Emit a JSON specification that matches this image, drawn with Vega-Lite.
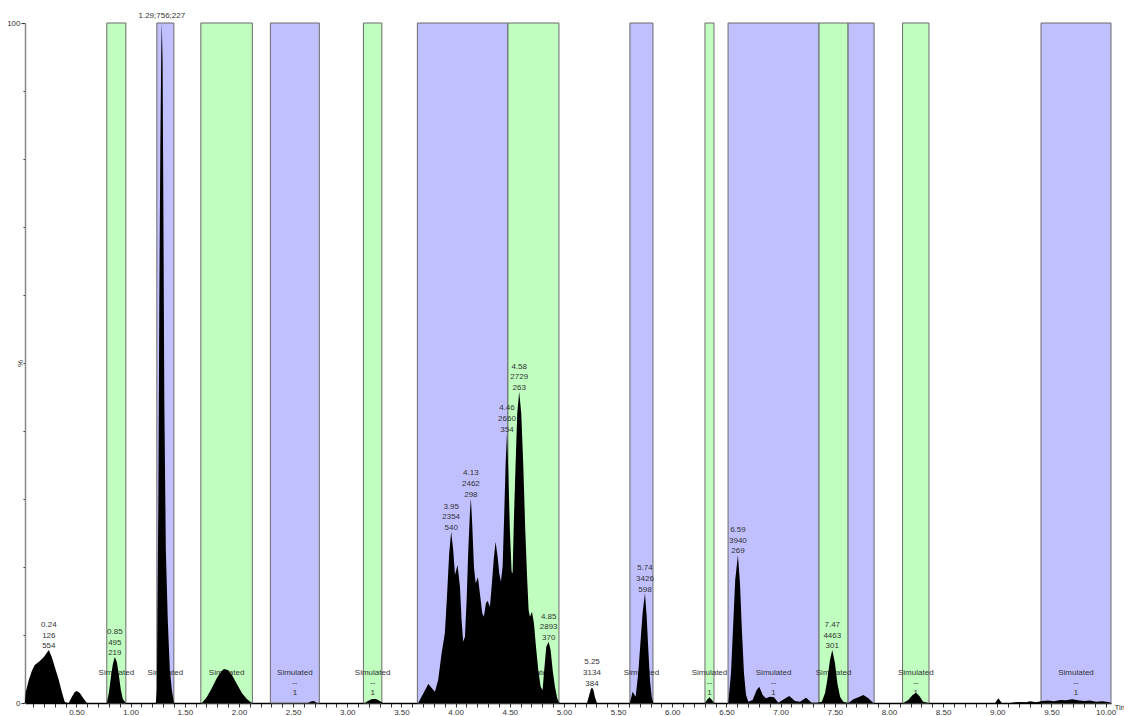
{
  "$schema": "https://vega.github.io/schema/vega-lite/v6.json",
  "width": 1086,
  "height": 680,
  "autosize": {"type": "none"},
  "padding": {"left": 25, "top": 23, "right": 13, "bottom": 13},
  "background": "white",
  "config": {
    "view": {"stroke": null},
    "axis": {"labelOverlap": false, "labelFlush": false, "labelBound": false, "grid": false},
    "text": {"font": "Liberation Sans", "fontSize": 8, "color": "#333"}
  },
  "datasets": {
    "bands": [
      {"t": 0.780, "t2": 0.956, "kind": "G", "label": "Simulated\n--\n1"},
      {"t": 1.242, "t2": 1.399, "kind": "B", "label": "Simulated\n--\n1"},
      {"t": 1.648, "t2": 2.124, "kind": "G", "label": "Simulated\n--\n1"},
      {"t": 2.290, "t2": 2.742, "kind": "B", "label": "Simulated\n--\n1"},
      {"t": 3.149, "t2": 3.319, "kind": "G", "label": "Simulated\n--\n1"},
      {"t": 3.647, "t2": 4.483, "kind": "B", "label": "Simulated\n--\n1"},
      {"t": 4.483, "t2": 4.954, "kind": "G", "label": "Simulated\n--\n1"},
      {"t": 5.609, "t2": 5.822, "kind": "B", "label": "Simulated\n--\n1"},
      {"t": 6.302, "t2": 6.385, "kind": "G", "label": "Simulated\n--\n1"},
      {"t": 6.515, "t2": 7.355, "kind": "B", "label": "Simulated\n--\n1"},
      {"t": 7.355, "t2": 7.623, "kind": "G", "label": "Simulated\n--\n1"},
      {"t": 7.623, "t2": 7.863, "kind": "B", "label": ""},
      {"t": 8.126, "t2": 8.370, "kind": "G", "label": "Simulated\n--\n1"},
      {"t": 9.404, "t2": 10.05, "kind": "B", "label": "Simulated\n--\n1"}
    ],
    "trace": [
      {"t":0.023,"i":0},{"t":0.032,"i":1.62},{"t":0.060,"i":3.38},{"t":0.088,"i":4.71},{"t":0.115,"i":5.59},{"t":0.162,"i":6.18},{"t":0.199,"i":6.76},{"t":0.245,"i":7.79},{"t":0.272,"i":6.76},{"t":0.300,"i":5.29},{"t":0.337,"i":3.38},{"t":0.365,"i":1.62},{"t":0.392,"i":0.15},{"t":0.420,"i":0},
      {"t":0.429,"i":0},{"t":0.457,"i":0.88},{"t":0.485,"i":1.62},{"t":0.503,"i":1.76},{"t":0.531,"i":1.47},{"t":0.568,"i":0.59},{"t":0.596,"i":0},
      {"t":0.780,"i":0},{"t":0.799,"i":1.47},{"t":0.817,"i":3.68},{"t":0.836,"i":5.74},{"t":0.854,"i":6.76},{"t":0.873,"i":6.03},{"t":0.891,"i":4.12},{"t":0.910,"i":1.91},{"t":0.928,"i":0.59},{"t":0.956,"i":0},
      {"t":1.233,"i":0},{"t":1.242,"i":1.91},{"t":1.247,"i":12.2},{"t":1.256,"i":29.9},{"t":1.265,"i":59.3},{"t":1.274,"i":81.3},{"t":1.283,"i":96.0},{"t":1.288,"i":100},{"t":1.295,"i":94.6},{"t":1.302,"i":74.0},{"t":1.311,"i":44.6},{"t":1.325,"i":22.5},{"t":1.343,"i":12.2},{"t":1.362,"i":4.85},{"t":1.381,"i":1.91},{"t":1.400,"i":0},
      {"t":1.658,"i":0},{"t":1.704,"i":0.88},{"t":1.750,"i":2.21},{"t":1.796,"i":3.68},{"t":1.833,"i":4.56},{"t":1.861,"i":5.0},{"t":1.898,"i":4.85},{"t":1.935,"i":4.12},{"t":1.981,"i":2.79},{"t":2.027,"i":1.47},{"t":2.073,"i":0.59},{"t":2.119,"i":0},
      {"t":2.636,"i":0},{"t":2.664,"i":0.22},{"t":2.692,"i":0.29},{"t":2.720,"i":0},
      {"t":3.163,"i":0},{"t":3.190,"i":0.29},{"t":3.227,"i":0.59},{"t":3.265,"i":0.59},{"t":3.301,"i":0.29},{"t":3.330,"i":0},
      {"t":3.655,"i":0},{"t":3.748,"i":2.79},{"t":3.809,"i":1.66},{"t":3.839,"i":3.38},{"t":3.871,"i":7.35},{"t":3.901,"i":10.29},{"t":3.922,"i":16.18},{"t":3.941,"i":22.06},{"t":3.959,"i":25.19},{"t":3.978,"i":22.5},{"t":3.994,"i":18.82},{"t":4.018,"i":20.29},{"t":4.040,"i":17.1},{"t":4.055,"i":12.21},{"t":4.070,"i":9.01},{"t":4.086,"i":9.75},{"t":4.102,"i":15.15},{"t":4.116,"i":22.06},{"t":4.132,"i":27.94},{"t":4.141,"i":30.1},{"t":4.153,"i":26.43},{"t":4.169,"i":20.04},{"t":4.185,"i":17.6},{"t":4.206,"i":18.49},{"t":4.224,"i":16.13},{"t":4.246,"i":13.19},{"t":4.261,"i":12.69},{"t":4.280,"i":14.66},{"t":4.295,"i":15.04},{"t":4.317,"i":14.16},{"t":4.335,"i":17.6},{"t":4.354,"i":21.51},{"t":4.369,"i":23.72},{"t":4.388,"i":21.51},{"t":4.403,"i":19.07},{"t":4.418,"i":17.84},{"t":4.434,"i":20.04},{"t":4.449,"i":27.9},{"t":4.462,"i":35.25},{"t":4.474,"i":39.66},{"t":4.486,"i":34.26},{"t":4.501,"i":25.44},{"t":4.517,"i":19.31},{"t":4.526,"i":19.07},{"t":4.538,"i":26.91},{"t":4.554,"i":35.25},{"t":4.569,"i":42.6},{"t":4.587,"i":45.78},{"t":4.606,"i":42.6},{"t":4.624,"i":35.25},{"t":4.643,"i":25.44},{"t":4.661,"i":18.09},{"t":4.674,"i":13.68},{"t":4.686,"i":12.69},{"t":4.705,"i":13.43},{"t":4.723,"i":11.72},{"t":4.742,"i":8.28},{"t":4.763,"i":4.85},{"t":4.785,"i":2.4},{"t":4.803,"i":1.91},{"t":4.818,"i":4.85},{"t":4.837,"i":8.28},{"t":4.859,"i":9.01},{"t":4.877,"i":7.79},{"t":4.896,"i":4.85},{"t":4.917,"i":2.4},{"t":4.938,"i":0.69},{"t":4.957,"i":0},
      {"t":5.213,"i":0},{"t":5.231,"i":1.03},{"t":5.249,"i":2.06},{"t":5.259,"i":2.28},{"t":5.272,"i":1.91},{"t":5.286,"i":0.88},{"t":5.305,"i":0},
      {"t":5.609,"i":0},{"t":5.634,"i":1.66},{"t":5.662,"i":0.93},{"t":5.686,"i":4.37},{"t":5.708,"i":9.26},{"t":5.726,"i":13.19},{"t":5.748,"i":16.13},{"t":5.764,"i":12.69},{"t":5.779,"i":7.79},{"t":5.794,"i":3.38},{"t":5.810,"i":0.93},{"t":5.825,"i":0},
      {"t":6.302,"i":0},{"t":6.320,"i":0.44},{"t":6.342,"i":0.84},{"t":6.367,"i":0.44},{"t":6.385,"i":0},
      {"t":6.517,"i":0},{"t":6.542,"i":4.37},{"t":6.563,"i":11.72},{"t":6.581,"i":18.09},{"t":6.606,"i":21.76},{"t":6.625,"i":17.6},{"t":6.644,"i":10.25},{"t":6.662,"i":4.37},{"t":6.681,"i":1.18},{"t":6.702,"i":0.19},{"t":6.742,"i":0.44},{"t":6.779,"i":1.91},{"t":6.803,"i":2.4},{"t":6.835,"i":1.18},{"t":6.865,"i":0.69},{"t":6.902,"i":0.93},{"t":6.939,"i":0.84},{"t":6.979,"i":0.04},{"t":7.019,"i":0.44},{"t":7.080,"i":1.03},{"t":7.133,"i":0.29},{"t":7.179,"i":0.19},{"t":7.235,"i":0.78},{"t":7.287,"i":0.04},{"t":7.333,"i":0.04},
      {"t":7.380,"i":0.19},{"t":7.410,"i":1.43},{"t":7.431,"i":3.38},{"t":7.456,"i":6.32},{"t":7.477,"i":7.79},{"t":7.502,"i":5.84},{"t":7.524,"i":2.9},{"t":7.549,"i":0.93},{"t":7.579,"i":0.19},{"t":7.625,"i":0},{"t":7.672,"i":0.54},{"t":7.718,"i":0.84},{"t":7.764,"i":1.18},{"t":7.810,"i":0.69},{"t":7.856,"i":0},
      {"t":8.133,"i":0},{"t":8.178,"i":0.44},{"t":8.219,"i":1.18},{"t":8.250,"i":1.51},{"t":8.281,"i":1.03},{"t":8.316,"i":0.19},{"t":8.364,"i":0},
      {"t":8.980,"i":0},{"t":9.010,"i":0.69},{"t":9.042,"i":0},
      {"t":9.118,"i":0},{"t":9.164,"i":0.1},{"t":9.211,"i":0.15},{"t":9.266,"i":0.1},{"t":9.303,"i":0.25},{"t":9.359,"i":0.1},{"t":9.414,"i":0.3},{"t":9.469,"i":0.35},{"t":9.525,"i":0.25},{"t":9.580,"i":0.45},{"t":9.635,"i":0.4},{"t":9.691,"i":0.55},{"t":9.746,"i":0.4},{"t":9.801,"i":0.3},{"t":9.857,"i":0.35},{"t":9.912,"i":0.2},{"t":9.968,"i":0.25},{"t":10.023,"i":0.15},{"t":10.05,"i":0}
    ],
    "peaks": [
      {"t": 0.245, "i": 7.79, "label": "0.24\n126\n554"},
      {"t": 0.854, "i": 6.76, "label": "0.85\n495\n219"},
      {"t": 3.959, "i": 25.19, "label": "3.95\n2354\n540"},
      {"t": 4.141, "i": 30.1, "label": "4.13\n2462\n298"},
      {"t": 4.474, "i": 39.66, "label": "4.46\n2660\n354"},
      {"t": 4.587, "i": 45.78, "label": "4.58\n2729\n263"},
      {"t": 4.859, "i": 9.01, "label": "4.85\n2893\n370"},
      {"t": 5.259, "i": 2.28, "label": "5.25\n3134\n384"},
      {"t": 5.748, "i": 16.13, "label": "5.74\n3426\n598"},
      {"t": 6.606, "i": 21.76, "label": "6.59\n3940\n269"},
      {"t": 7.477, "i": 7.79, "label": "7.47\n4463\n301"}
    ],
    "toppeak": [
      {"t": 1.288, "i": 100, "label": "1.29;756;227"}
    ]
  },
  "encoding": {
    "x": {
      "field": "t", "type": "quantitative",
      "scale": {"domain": [0.025, 10.05], "nice": false, "zero": false},
      "axis": {
        "values": [0.1,0.2,0.3,0.4,0.5,0.6,0.7,0.8,0.9,1.0,1.1,1.2,1.3,1.4,1.5,1.6,1.7,1.8,1.9,2.0,2.1,2.2,2.3,2.4,2.5,2.6,2.7,2.8,2.9,3.0,3.1,3.2,3.3,3.4,3.5,3.6,3.7,3.8,3.9,4.0,4.1,4.2,4.3,4.4,4.5,4.6,4.7,4.8,4.9,5.0,5.1,5.2,5.3,5.4,5.5,5.6,5.7,5.8,5.9,6.0,6.1,6.2,6.3,6.4,6.5,6.6,6.7,6.8,6.9,7.0,7.1,7.2,7.3,7.4,7.5,7.6,7.7,7.8,7.9,8.0,8.1,8.2,8.3,8.4,8.5,8.6,8.7,8.8,8.9,9.0,9.1,9.2,9.3,9.4,9.5,9.6,9.7,9.8,9.9,10.0],
        "labelExpr": "abs(datum.value * 2 - round(datum.value * 2)) < 0.001 ? format(datum.value, '.2f') : ''",
        "labelFont": "Liberation Sans",
        "labelFontSize": 8,
        "labelColor": "#333",
        "labelPadding": 1,
        "labelOverlap": false,
        "labelFlush": false,
        "labelBound": false,
        "tickSize": 4,
        "tickColor": "#333",
        "domainColor": "black",
        "domainWidth": 1.5,
        "grid": false,
        "title": "Time",
        "titleFont": "Liberation Sans",
        "titleFontSize": 8,
        "titleFontWeight": "normal",
        "titleColor": "#333",
        "titleAlign": "left",
        "titleBaseline": "middle",
        "titleAnchor": "start",
        "titleX": 1089,
        "titleY": 4
      }
    }
  },
  "layer": [
    {
      "data": {"name": "bands"},
      "mark": {"type": "rect", "stroke": "#6a6a6a", "strokeWidth": 1},
      "encoding": {
        "x2": {"field": "t2"},
        "y": {"datum": 0, "type": "quantitative", "scale": {"domain": [0, 100], "nice": false}},
        "y2": {"datum": 100},
        "color": {"field": "kind", "type": "nominal", "scale": {"domain": ["G", "B"], "range": ["#c0ffc0", "#c0c0ff"]}, "legend": null}
      }
    },
    {
      "data": {"name": "bands"},
      "transform": [{"calculate": "(datum.t + datum.t2) / 2", "as": "t"}],
      "mark": {"type": "text", "baseline": "top", "align": "center", "lineBreak": "\n", "lineHeight": 10, "dy": -1},
      "encoding": {
        "y": {"datum": 4.9, "type": "quantitative"},
        "text": {"field": "label"}
      }
    },
    {
      "data": {"name": "trace"},
      "mark": {"type": "area", "color": "black", "interpolate": "linear"},
      "encoding": {
        "y": {
          "field": "i", "type": "quantitative",
          "axis": {
            "values": [0,10,20,30,40,50,60,70,80,90,100],
            "labelExpr": "datum.value == 0 || datum.value == 100 ? datum.label : ''",
            "labelFont": "Liberation Sans",
            "labelFontSize": 8,
            "labelColor": "#333",
            "labelPadding": 1,
            "labelOverlap": false,
            "labelFlush": false,
            "labelBound": false,
            "tickSize": {"condition": {"test": "datum.value == 0 || datum.value == 100", "value": 4}, "value": 2},
            "tickColor": "#333",
            "domainColor": "#888",
            "domainWidth": 1.5,
            "grid": false,
            "title": "%",
            "titleFont": "Liberation Sans",
            "titleFontSize": 8,
            "titleFontWeight": "normal",
            "titleColor": "#333",
            "titleX": -5,
            "titleY": 340,
            "titleAngle": -90,
            "titleAlign": "center",
            "titleBaseline": "middle"
          }
        }
      }
    },
    {
      "data": {"name": "peaks"},
      "mark": {"type": "text", "baseline": "bottom", "align": "center", "lineBreak": "\n", "lineHeight": 10.7, "dy": -21},
      "encoding": {
        "y": {"field": "i", "type": "quantitative"},
        "text": {"field": "label"}
      }
    },
    {
      "data": {"name": "toppeak"},
      "mark": {"type": "text", "baseline": "bottom", "align": "center", "dy": -3},
      "encoding": {
        "y": {"field": "i", "type": "quantitative"},
        "text": {"field": "label"}
      }
    }
  ]
}
